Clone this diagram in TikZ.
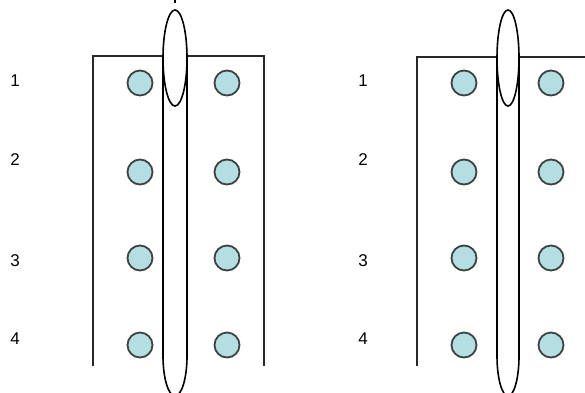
\documentclass[tikz,border=0pt]{standalone}
\usepackage{fontspec}
\setmainfont{Liberation Sans}
\definecolor{dotfill}{RGB}{180,222,226}
\definecolor{dotedge}{RGB}{60,66,66}
\definecolor{boxedge}{RGB}{40,40,40}
\begin{document}
\begin{tikzpicture}[x=1pt,y=-1pt,
  boxline/.style={draw=boxedge,line width=2pt},
  ringline/.style={draw=black,line width=1.6pt},
  dotnode/.style={circle,draw=dotedge,fill=dotfill,line width=1.8pt,minimum size=25pt,inner sep=0pt},
  rowlabel/.style={font=\fontsize{17}{17}\selectfont,inner sep=0pt}]
\useasboundingbox (0,0) rectangle (585,392);
% tiny cropped mark at top
\fill[black] (173.5,0) rectangle (175.5,3);
% ---------- left panel ----------
\draw[boxline] (93,366) -- (93,56) -- (264,56) -- (264,366);
\draw[ringline] (163,58) -- (163,356) arc[start angle=180,end angle=0,x radius=12,y radius=40] -- (187,58);
\draw[ringline,fill=white] (175,58) ellipse[x radius=12,y radius=48];
\node[dotnode] (a1) at (140,83) {};
\node[dotnode] (b1) at (227,83) {};
\node[dotnode] (a2) at (140,172) {};
\node[dotnode] (b2) at (227,172) {};
\node[dotnode] (a3) at (140,258) {};
\node[dotnode] (b3) at (227,258) {};
\node[dotnode] (a4) at (140,345) {};
\node[dotnode] (b4) at (227,345) {};
\node[rowlabel] (l1) at (15,81) {1};
\node[rowlabel] (l2) at (15,160) {2};
\node[rowlabel] (l3) at (15,261) {3};
\node[rowlabel] (l4) at (15,339) {4};
% ---------- right panel ----------
\draw[boxline] (417,366) -- (417,57) -- (590,57);
\draw[ringline] (497,58) -- (497,356) arc[start angle=180,end angle=0,x radius=11,y radius=40] -- (519,58);
\draw[ringline,fill=white] (508,58) ellipse[x radius=11,y radius=48];
\node[dotnode] (c1) at (464,83) {};
\node[dotnode] (d1) at (551,83) {};
\node[dotnode] (c2) at (464,172) {};
\node[dotnode] (d2) at (551,172) {};
\node[dotnode] (c3) at (464,258) {};
\node[dotnode] (d3) at (551,258) {};
\node[dotnode] (c4) at (464,345) {};
\node[dotnode] (d4) at (551,345) {};
\node[rowlabel] (r1) at (363,81) {1};
\node[rowlabel] (r2) at (363,160) {2};
\node[rowlabel] (r3) at (363,261) {3};
\node[rowlabel] (r4) at (363,339) {4};
\end{tikzpicture}
\end{document}
